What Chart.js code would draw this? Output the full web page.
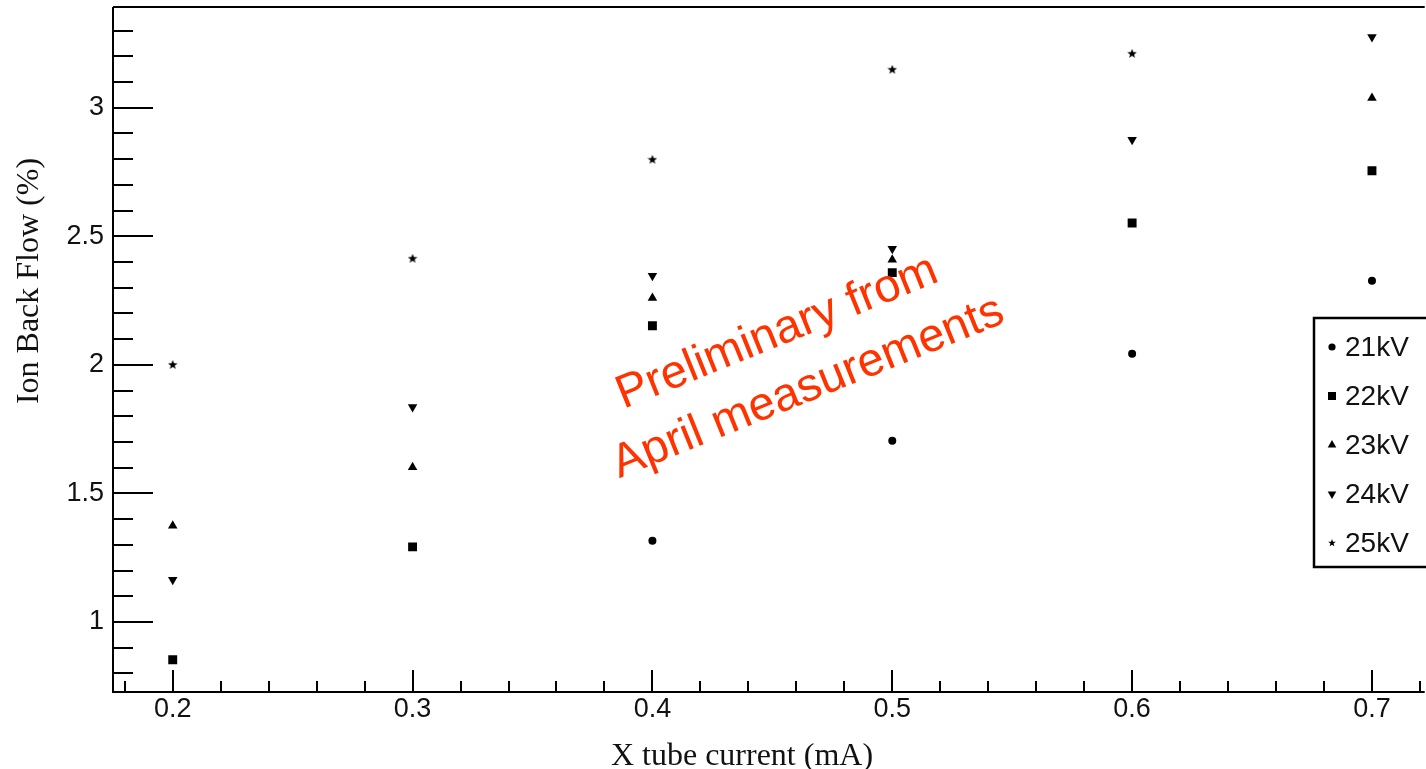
<!DOCTYPE html>
<html>
<head>
<meta charset="utf-8">
<script src="https://cdn.jsdelivr.net/npm/chart.js@4.4.1/dist/chart.umd.min.js"></script>
<style>
  html, body { margin: 0; padding: 0; background: #fff; }
  #wrap { width: 1426px; height: 769px; position: relative; }
</style>
</head>
<body>
<div id="wrap"><canvas id="ibf" width="1426" height="769"></canvas></div>
<script>
// X tube current (mA)
const xCurrent = [0.2, 0.3, 0.4, 0.5, 0.6, 0.7];
// Ion back flow (%) per voltage, null = no point in the picture
const ibf21kV = [null, null, 1.316, 1.705, 2.043, 2.327];
const ibf22kV = [0.853, 1.292, 2.152, 2.359, 2.552, 2.755];
const ibf23kV = [1.374, 1.602, 2.260, 2.409, null, 3.038];
const ibf24kV = [1.164, 1.836, 2.347, 2.452, 2.876, 3.275];
const ibf25kV = [2.000, 2.413, 2.798, 3.148, 3.210, null];
const seriesLabels = ['21kV', '22kV', '23kV', '24kV', '25kV'];

// tick labels
const xTickLabels = [0.2, 0.3, 0.4, 0.5, 0.6, 0.7];
const yTickLabels = [1, 1.5, 2, 2.5, 3];

// filled five point star, like the ROOT marker
function makeStar(size) {
  const c = document.createElement('canvas');
  c.width = size; c.height = size;
  const g = c.getContext('2d');
  const cx = size / 2, cy = size / 2, ro = size / 2, ri = ro * 0.42;
  g.beginPath();
  for (let i = 0; i < 10; i++) {
    const r = i % 2 ? ri : ro;
    const a = -Math.PI / 2 + i * Math.PI / 5;
    g.lineTo(cx + r * Math.cos(a), cy + r * Math.sin(a));
  }
  g.closePath();
  g.fillStyle = '#000';
  g.fill();
  return c;
}
const starImg = makeStar(10);
const starImgSmall = makeStar(8);

const markerStyles = [
  { pointStyle: 'circle', radius: 4, rotation: 0 },
  { pointStyle: 'rect', radius: 6.3, rotation: 0 },
  { pointStyle: 'triangle', radius: 5.5, rotation: 0 },
  { pointStyle: 'triangle', radius: 5.5, rotation: 180 },
  { pointStyle: starImg, radius: 5, rotation: 0 },
];

function toPoints(values) {
  return xCurrent
    .map((x, i) => ({ x: x, y: values[i] }))
    .filter(p => p.y !== null);
}

const allSeries = [ibf21kV, ibf22kV, ibf23kV, ibf24kV, ibf25kV];
const datasets = allSeries.map((vals, i) => ({
  label: seriesLabels[i],
  data: toPoints(vals),
  pointStyle: markerStyles[i].pointStyle,
  pointRadius: markerStyles[i].radius,
  pointRotation: markerStyles[i].rotation,
  backgroundColor: '#000',
  borderColor: '#000',
  borderWidth: 0,
  showLine: false,
}));

const tickFont = { family: 'Liberation Sans, Arial, sans-serif', size: 27 };

// frame + inward ROOT style ticks
const framePlugin = {
  id: 'frame',
  afterDatasetsDraw(chart) {
    const ctx = chart.ctx;
    const area = chart.chartArea;
    const xs = chart.scales.x, ys = chart.scales.y;
    ctx.save();
    ctx.strokeStyle = '#000';
    ctx.lineWidth = 2;
    ctx.beginPath();
    ctx.moveTo(area.left, area.top);
    ctx.lineTo(area.right + 5, area.top);
    ctx.moveTo(area.left, area.top);
    ctx.lineTo(area.left, area.bottom);
    ctx.lineTo(area.right + 5, area.bottom);
    ctx.stroke();

    ctx.beginPath();
    for (let k = 8; k <= 33; k++) {
      const py = Math.round(ys.getPixelForValue(k / 10));
      const len = k % 5 === 0 ? 40 : 20;
      ctx.moveTo(area.left, py);
      ctx.lineTo(area.left + len, py);
    }
    for (let k = 9; k <= 36; k++) {
      const px = Math.round(xs.getPixelForValue(k / 50));
      const len = k % 5 === 0 ? 22 : 11;
      ctx.moveTo(px, area.bottom);
      ctx.lineTo(px, area.bottom - len);
    }
    ctx.stroke();
    ctx.restore();
  }
};

// axis titles, annotation and legend box
const overlayPlugin = {
  id: 'overlay',
  afterDraw(chart) {
    const ctx = chart.ctx;
    ctx.save();
    // axis titles
    ctx.fillStyle = '#111';
    ctx.font = '32px "Liberation Serif", "Times New Roman", serif';
    ctx.textAlign = 'center';
    ctx.textBaseline = 'alphabetic';
    ctx.fillText('X tube current (mA)', 742, 765);
    ctx.save();
    ctx.translate(38, 281);
    ctx.rotate(-Math.PI / 2);
    ctx.fillText('Ion Back Flow (%)', 0, 0);
    ctx.restore();

    // red annotation
    ctx.fillStyle = '#ff3300';
    ctx.font = '47px "Liberation Sans", Arial, sans-serif';
    const ang = -22 * Math.PI / 180;
    [['Preliminary from', 782, 345], ['April measurements', 813, 400]].forEach(([t, x, y]) => {
      ctx.save();
      ctx.translate(x, y);
      ctx.rotate(ang);
      ctx.fillText(t, 0, 0);
      ctx.restore();
    });

    // legend
    ctx.fillStyle = '#fff';
    ctx.fillRect(1314, 318, 200, 249);
    ctx.strokeStyle = '#000';
    ctx.lineWidth = 2.5;
    ctx.strokeRect(1314, 318, 200, 249);
    ctx.font = '28px "Liberation Sans", Arial, sans-serif';
    ctx.textAlign = 'left';
    ctx.textBaseline = 'middle';
    chart.data.datasets.forEach((ds, i) => {
      const y = 347 + i * 49;
      ctx.fillStyle = '#000';
      const st = ds.pointStyle === starImg ? starImgSmall : ds.pointStyle;
      Chart.helpers.drawPoint(ctx, {
        pointStyle: st,
        radius: ds.pointRadius * 0.9,
        rotation: ds.pointRotation,
        borderWidth: 0,
      }, 1332, y);
      ctx.fillStyle = '#111';
      ctx.fillText(ds.label, 1345, y + 1);
    });
    ctx.restore();
  }
};

new Chart(document.getElementById('ibf'), {
  type: 'scatter',
  data: { datasets: datasets },
  options: {
    responsive: false,
    animation: false,
    devicePixelRatio: 1,
    events: [],
    layout: { padding: { top: 7, left: 0, right: 0, bottom: 0 } },
    plugins: {
      legend: { display: false },
      tooltip: { enabled: false },
    },
    scales: {
      x: {
        type: 'linear',
        position: 'bottom',
        min: 0.1751,
        max: 0.7199,
        grid: { display: false, drawTicks: false },
        border: { display: false },
        ticks: { font: tickFont, color: '#111', padding: 1, callback: v => String(v) },
        afterBuildTicks: s => { s.ticks = xTickLabels.map(v => ({ value: v })); },
        afterFit: s => { s.height = 77; s.paddingLeft = 0; s.paddingRight = 0; },
      },
      y: {
        type: 'linear',
        position: 'left',
        min: 0.7277,
        max: 3.392,
        grid: { display: false, drawTicks: false },
        border: { display: false },
        ticks: { font: tickFont, color: '#111', padding: 9, callback: v => String(v) },
        afterBuildTicks: s => { s.ticks = yTickLabels.map(v => ({ value: v })); },
        afterFit: s => { s.width = 113; s.paddingTop = 0; s.paddingBottom = 0; },
      },
    },
  },
  plugins: [framePlugin, overlayPlugin],
});
</script>
</body>
</html>
